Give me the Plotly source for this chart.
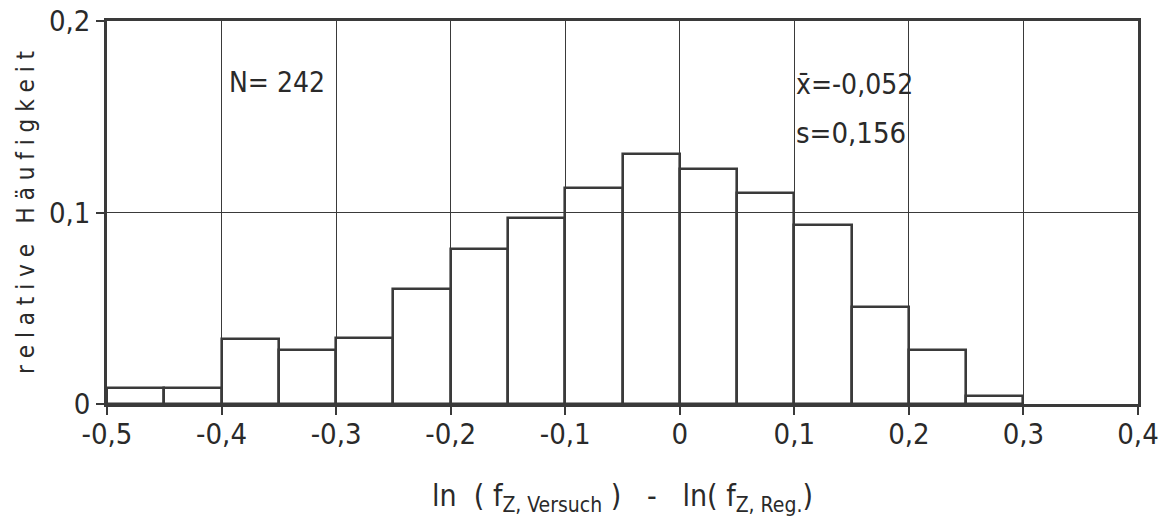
import plotly.graph_objects as go

# Data
bin_left = [-0.50, -0.45, -0.40, -0.35, -0.30, -0.25, -0.20, -0.15, -0.10, -0.05,
            0.00, 0.05, 0.10, 0.15, 0.20, 0.25]
rel_freq = [0.0082, 0.0082, 0.0340, 0.0280, 0.0343, 0.0600, 0.0808, 0.0970, 0.1126,
            0.1307, 0.1227, 0.1100, 0.0934, 0.0505, 0.0280, 0.0042]
bin_width = 0.05
x_tickvals = [-0.5, -0.4, -0.3, -0.2, -0.1, 0.0, 0.1, 0.2, 0.3, 0.4]
x_ticktext = ["-0,5", "-0,4", "-0,3", "-0,2", "-0,1", "0", "0,1", "0,2", "0,3", "0,4"]
y_tickvals = [0.0, 0.1, 0.2]
y_ticktext = ["0", "0,1", "0,2"]
n_text = "N= 242"
mean_text = "x\u0304=-0,052"
sd_text = "s=0,156"

FONT = "Liberation Sans Narrow, DejaVu Sans Condensed, Arial Narrow, Liberation Sans"
INK = "#2a2a2a"
LINE = "#3a3a3a"

centers = [b + bin_width / 2 for b in bin_left]

fig = go.Figure()
fig.add_trace(go.Bar(
    x=centers, y=rel_freq, width=[bin_width] * len(centers),
    marker=dict(color="rgba(0,0,0,0)", line=dict(color=LINE, width=2.6)),
    showlegend=False, hoverinfo="skip",
))

fig.update_layout(
    width=1163, height=529,
    margin=dict(l=107, r=25, t=21, b=125, autoexpand=False),
    paper_bgcolor="white", plot_bgcolor="white",
    font=dict(family=FONT, color=INK, size=28),
    bargap=0,
    xaxis=dict(
        range=[-0.5, 0.4], tickvals=x_tickvals, ticktext=x_ticktext,
        automargin=False,
        showgrid=True, gridcolor=LINE, gridwidth=1, zeroline=False,
        showline=True, linecolor=LINE, linewidth=2.6, mirror=True,
        ticks="outside", ticklen=8, tickwidth=1.5, tickcolor=LINE,
        ticklabelstandoff=-6,
        tickfont=dict(size=29, family=FONT, color=INK),
        title=dict(
            text="ln  ( f<sub>Z, Versuch</sub> )   -   ln( f<sub>Z, Reg.</sub>)",
            font=dict(size=30, family=FONT, color=INK), standoff=36,
        ),
    ),
    yaxis=dict(
        range=[0, 0.2], tickvals=y_tickvals, ticktext=y_ticktext,
        automargin=False,
        showgrid=True, gridcolor=LINE, gridwidth=1, zeroline=False,
        showline=True, linecolor=LINE, linewidth=2.6, mirror=True,
        ticks="outside", ticklen=8, tickwidth=1.5, tickcolor=LINE,
        tickfont=dict(size=29, family=FONT, color=INK),
        title=dict(
            text="r e l a t i v e   H ä u f i g k e i t",
            font=dict(size=24, family=FONT, color=INK), standoff=8,
        ),
    ),
)

fig.add_annotation(x=-0.395, y=0.168, text=n_text, showarrow=False,
                   xanchor="left", yanchor="middle",
                   font=dict(size=28, family=FONT, color=INK))
fig.add_annotation(x=0.1, y=0.167, text=mean_text, showarrow=False,
                   xanchor="left", yanchor="middle", xshift=0,
                   font=dict(size=28, family=FONT, color=INK))
fig.add_annotation(x=0.1, y=0.1415, text=sd_text, showarrow=False,
                   xanchor="left", yanchor="middle", xshift=0,
                   font=dict(size=29, family=FONT, color=INK))

fig.write_html(
    "out.html",
    config={"displayModeBar": False},
    post_script="document.body.style.margin='0';document.body.style.overflow='hidden';",
)
